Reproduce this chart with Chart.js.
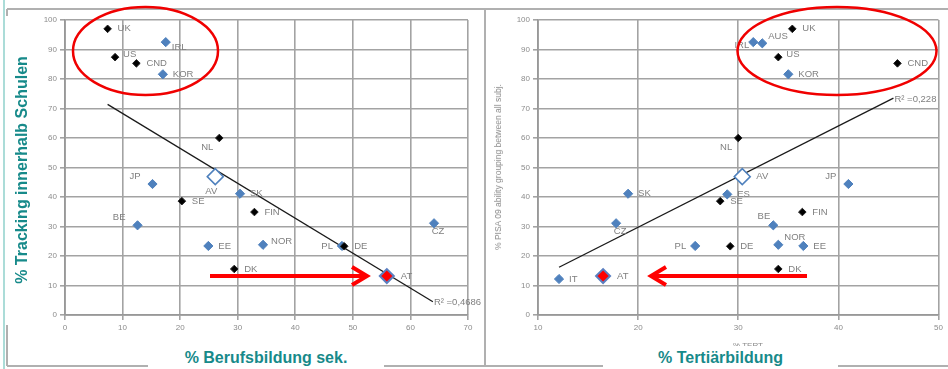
<!DOCTYPE html>
<html>
<head>
<meta charset="utf-8">
<script src="https://cdn.jsdelivr.net/npm/chart.js@4/dist/chart.umd.min.js"></script>
<style>
  html, body { margin: 0; padding: 0; background: #fff; }
  #stage { position: relative; width: 948px; height: 369px; overflow: hidden; font-family: Arial, "Liberation Sans", sans-serif; }
  #stage canvas { position: absolute; top: 0; }
  #cl { left: 0; }
  #cr { left: 486px; }
  .teal { position: absolute; color: #178a8a; font-weight: bold; font-size: 16px; white-space: nowrap; line-height: 16px; }
  .box { position: absolute; background: #fff; text-align: center; }
  #ytitle { left: 22px; top: 170px; transform: translate(-50%, -50%) rotate(-90deg); }
  #ytitle2 { position: absolute; left: 498px; top: 167px; transform: translate(-50%, -50%) rotate(-90deg);
             font-size: 8.5px; color: #8a8a8a; white-space: nowrap; }
  #xsmall2 { position: absolute; left: 733px; top: 341px; font-size: 8px; color: #8a8a8a; }
  svg { position: absolute; left: 0; top: 0; }
</style>
</head>
<body>
<div id="stage">
  <canvas id="cl" width="485" height="369"></canvas>
  <canvas id="cr" width="462" height="369"></canvas>
  <div id="ytitle2">% PISA 09 ability grouping between all subj.</div>
  <div id="xsmall2">% TERT</div>
  <svg width="948" height="369" viewBox="0 0 948 369">
    <!-- panel frames -->
    <g stroke="#b0b0b0" stroke-width="2" fill="none">
      <line x1="7" y1="9" x2="948" y2="9"/>
      <line x1="7" y1="9" x2="7" y2="16"/>
      <line x1="7" y1="325" x2="7" y2="366"/>
      <line x1="485" y1="9" x2="485" y2="366"/>
      <line x1="7" y1="366" x2="948" y2="366"/>
    </g>
    <line x1="4" y1="0" x2="4" y2="369" stroke="#8fd0cb" stroke-width="1.5"/>
    <!-- highlight rings -->
    <g stroke="#f00000" stroke-width="2.5" fill="none">
      <ellipse cx="145.5" cy="51" rx="72.5" ry="44"/>
      <ellipse cx="837" cy="51" rx="99.5" ry="44"/>
    </g>
    <!-- arrows pointing at Austria -->
    <g stroke="#ff0000" stroke-width="4" fill="none" stroke-linecap="butt">
      <line x1="210" y1="276" x2="366" y2="276"/>
      <polyline points="352,267 367,276 352,285"/>
      <line x1="652" y1="276" x2="807" y2="276"/>
      <polyline points="666,267 651,276 666,285"/>
    </g>
  </svg>
  <div class="teal" id="ytitle">% Tracking innerhalb Schulen</div>
  <div class="box teal" style="left:148px; top:346px; width:236px; height:23px; line-height:23px;">% Berufsbildung sek.</div>
  <div class="box teal" style="left:603px; top:346px; width:235px; height:23px; line-height:23px;">% Tertiärbildung</div>
</div>

<script>
// Countries shown in the two scatter plots
const countries  = ['UK', 'IRL', 'US', 'CND', 'KOR', 'NL', 'JP', 'AV', 'SE', 'BE', 'EE', 'DK', 'SK', 'FIN', 'NOR', 'PL', 'DE', 'CZ', 'AT', 'AUS', 'ES', 'IT'];
// % tracking within schools (y in both plots)
const tracking   = [97.0, 92.5, 87.4, 85.3, 81.6, 60.0, 44.4, 46.9, 38.6, 30.4, 23.4, 15.6, 41.1, 34.9, 23.8, 23.4, 23.3, 31.1, 13.2, 92.1, 40.9, 12.2];
// % upper-secondary vocational education (x, left plot)
const vocational = [7.4, 17.5, 8.7, 12.4, 17.0, 26.8, 15.2, 26.1, 20.3, 12.6, 24.9, 29.4, 30.4, 32.9, 34.4, 48.1, 48.5, 64.1, 55.9, null, null, null];
// % tertiary education (x, right plot)
const tertiary   = [35.4, 31.5, 34.0, 45.9, 35.0, 30.0, 41.0, 30.4, 28.2, 33.5, 36.5, 34.0, 19.0, 36.4, 34.0, 25.7, 29.2, 17.8, 16.5, 32.4, 28.9, 12.1];
// Marker group of each country
const group      = ['k', 'b', 'k', 'k', 'b', 'k', 'b', 'avg', 'k', 'b', 'b', 'k', 'b', 'k', 'b', 'b', 'k', 'b', 'at', 'b', 'b', 'b'];

// Linear trend lines (end points) and their R² texts
const trendLeft  = [{ x: 7.4, y: 71.4 }, { x: 63.9, y: 4.5 }];
const trendRight = [{ x: 12.1, y: 16.2 }, { x: 45.5, y: 73.5 }];
const r2Left  = 'R² =0,4686';
const r2Right = 'R² =0,228';

// Axis tick settings
const yTicks = { min: 0, max: 100, step: 10 };
const xTicksLeft  = { min: 0, max: 70, step: 10 };
const xTicksRight = { min: 10, max: 50, step: 10 };

// Where each country's name sits next to its marker
const tagLeft  = ['r', 'rb', 'ra', 'r', 'r', 'bl', 'al', 'bc', 'r', 'al', 'r', 'r', 'r', 'r', 'ra', 'l', 'r', 'b', 'big', null, null, null];
const tagRight = ['r', 'lb', 'ra', 'r', 'r', 'bl', 'al', 'big', 'r', 'al2', 'r', 'r', 'r', 'r', 'ar', 'l', 'r', 'b', 'big', 'ar', 'r', 'r'];

const TAG_OFFSETS = {
  r:   [10, 0, 'left'],
  ra:  [8, -3, 'left'],
  rb:  [6, 5, 'left'],
  l:   [-9, 0, 'right'],
  lb:  [-4, 3, 'right'],
  bl:  [-6, 9, 'right'],
  al:  [-12, -8, 'right'],
  al2: [-3, -9, 'right'],
  ar:  [6, -7, 'left'],
  b:   [4, 8, 'center'],
  bc:  [-4, 15, 'center'],
  big: [14, 0, 'left']
};

const MARKERS = {
  b:   { pointStyle: 'rectRot', pointRadius: 4.6, backgroundColor: '#4f81bd', borderColor: '#4f81bd', borderWidth: 1, order: 4 },
  k:   { pointStyle: 'rectRot', pointRadius: 3.8, backgroundColor: '#000000', borderColor: '#222222', borderWidth: 1, order: 3 },
  avg: { pointStyle: 'rectRot', pointRadius: 8, backgroundColor: '#ffffff', borderColor: '#4f81bd', borderWidth: 1.5, order: 2 },
  at:  { pointStyle: 'rectRot', pointRadius: 7, backgroundColor: '#ff0000', borderColor: '#5b7fc0', borderWidth: 2, order: 1 }
};

function buildDatasets(xs, tags, trend, r2) {
  const sets = [];
  ['b', 'k', 'avg', 'at'].forEach(g => {
    const pts = [];
    countries.forEach((c, i) => {
      if (group[i] === g && xs[i] !== null) {
        pts.push({ x: xs[i], y: tracking[i], name: c, tag: tags[i] });
      }
    });
    sets.push(Object.assign({ type: 'scatter', data: pts, tagged: true }, MARKERS[g]));
  });
  sets.push({
    type: 'line', data: trend, borderColor: '#1a1a1a', borderWidth: 1.3,
    pointRadius: 0, fill: false, tension: 0, order: 5, r2: r2
  });
  return sets;
}

// Draws the country names and the R² text
const tagPlugin = {
  id: 'countryTags',
  afterDatasetsDraw(chart) {
    const ctx = chart.ctx;
    ctx.save();
    ctx.font = '9.5px Arial, "Liberation Sans", sans-serif';
    ctx.fillStyle = '#7f7f7f';
    ctx.textBaseline = 'middle';
    chart.data.datasets.forEach((ds, di) => {
      const meta = chart.getDatasetMeta(di);
      if (ds.tagged) {
        meta.data.forEach((el, i) => {
          const p = ds.data[i];
          const o = TAG_OFFSETS[p.tag];
          if (!o) return;
          ctx.textAlign = o[2];
          ctx.fillText(p.name, el.x + o[0], el.y + o[1]);
        });
      } else if (ds.r2) {
        const end = meta.data[meta.data.length - 1];
        ctx.textAlign = 'left';
        ctx.fillText(ds.r2, end.x + 1, end.y + 1);
      }
    });
    ctx.restore();
  }
};

function axisOptions(t, fit) {
  return {
    type: 'linear', min: t.min, max: t.max,
    ticks: { stepSize: t.step, color: '#8c8c8c', font: { size: 8, family: 'Arial' }, padding: 3, maxRotation: 0 },
    grid: { color: '#a3a3a3', lineWidth: 1.6, tickLength: 5, tickColor: '#a3a3a3' },
    border: { color: '#989898', width: 1.8 },
    afterFit: fit
  };
}

function makeChart(id, xs, xt, tags, trend, r2, padding) {
  return new Chart(document.getElementById(id), {
    type: 'scatter',
    data: { datasets: buildDatasets(xs, tags, trend, r2) },
    options: {
      responsive: false,
      animation: false,
      events: [],
      layout: { padding: padding },
      plugins: { legend: { display: false }, tooltip: { enabled: false } },
      scales: {
        x: axisOptions(xt, s => { s.height = 20; }),
        y: axisOptions(yTicks, s => { s.width = 30; })
      }
    },
    plugins: [tagPlugin]
  });
}

makeChart('cl', vocational, xTicksLeft, tagLeft, trendLeft, r2Left, { left: 35, right: 17, top: 20, bottom: 34 });
makeChart('cr', tertiary, xTicksRight, tagRight, trendRight, r2Right, { left: 22, right: 6, top: 20, bottom: 34 });
</script>
</body>
</html>
